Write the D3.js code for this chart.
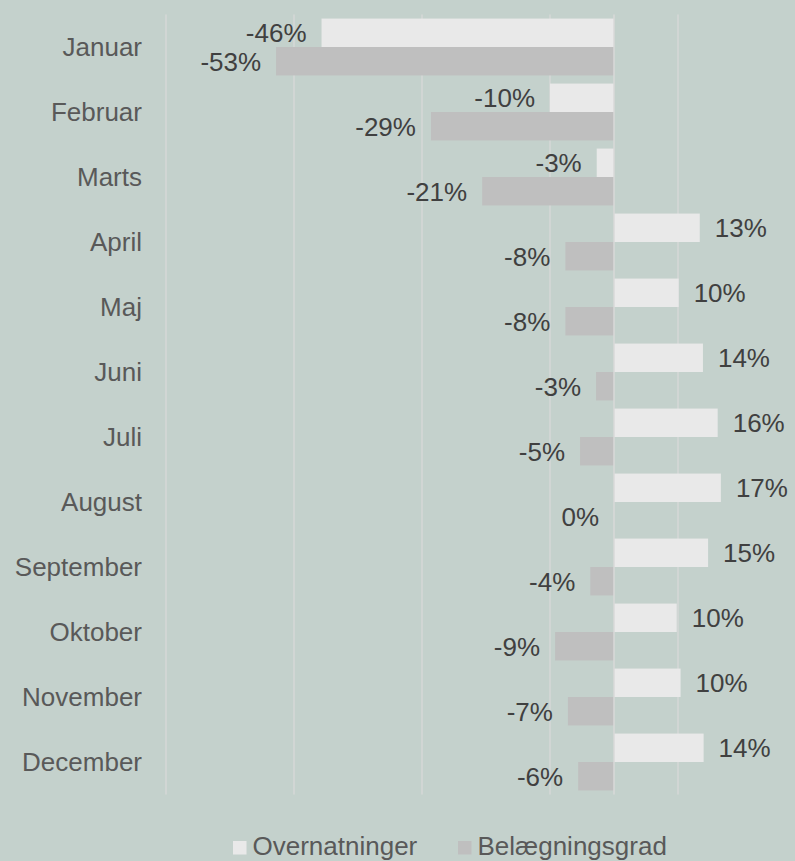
<!DOCTYPE html>
<html>
<head>
<meta charset="utf-8">
<script src="https://cdn.jsdelivr.net/npm/d3@7"></script>
<style>
    html, body { margin: 0; padding: 0; background: #c4d1cc; }
    svg { display: block; }
</style>
</head>
<body>
<div id="chart"></div>
<script>
// Data
const months = ["Januar", "Februar", "Marts", "April", "Maj", "Juni", "Juli", "August", "September", "Oktober", "November", "December"];
const overnatninger = [-45.7, -10.0, -2.7, 13.4, 10.1, 13.9, 16.2, 16.7, 14.7, 9.8, 10.4, 14.0];
const belaegningsgrad = [-52.8, -28.6, -20.6, -7.6, -7.6, -2.8, -5.3, 0, -3.7, -9.2, -7.2, -5.6];
const seriesNames = ["Overnatninger", "Belægningsgrad"];
const gridTicks = [-70, -50, -30, -10, 10];

const createBarChart = () => {
    // 1. Dimensions
    const width = 795;
    const height = 861;
    const plot = { left: 166, right: 742, top: 14.5, bottom: 794.5 };

    const svg = d3.select("#chart")
        .append("svg")
        .attr("width", width)
        .attr("height", height);

    svg.append("rect")
        .attr("width", width)
        .attr("height", height)
        .attr("fill", "#c4d1cc");

    // 2. Scales
    const x = d3.scaleLinear()
        .domain([-70, 20])
        .range([plot.left, plot.right]);

    const y0 = d3.scaleBand()
        .domain(months)
        .range([plot.top, plot.bottom])
        .paddingInner(0.125)
        .paddingOuter(0.0625);

    const y1 = d3.scaleBand()
        .domain(seriesNames)
        .range([0, y0.bandwidth()]);

    const color = d3.scaleOrdinal()
        .domain(seriesNames)
        .range(["#e9e9e9", "#bfbfbf"]);

    // 3. Gridlines
    svg.append("g")
        .selectAll("line")
        .data(gridTicks)
        .enter()
        .append("line")
        .attr("x1", d => x(d))
        .attr("x2", d => x(d))
        .attr("y1", plot.top)
        .attr("y2", plot.bottom)
        .attr("stroke", "#d9d9d9")
        .attr("stroke-width", 1.3);

    // 4. Bars
    const rows = months.map((m, i) => ({
        month: m,
        values: [
            { series: seriesNames[0], value: overnatninger[i] },
            { series: seriesNames[1], value: belaegningsgrad[i] }
        ]
    }));

    const groups = svg.append("g")
        .selectAll(".month")
        .data(rows)
        .enter()
        .append("g")
        .attr("class", "month")
        .attr("transform", d => `translate(0, ${y0(d.month)})`);

    groups.selectAll("rect")
        .data(d => d.values)
        .enter()
        .append("rect")
        .attr("x", d => x(Math.min(0, d.value)))
        .attr("width", d => Math.abs(x(d.value) - x(0)))
        .attr("y", d => y1(d.series))
        .attr("height", y1.bandwidth())
        .attr("fill", d => color(d.series));

    // data labels
    groups.selectAll("text")
        .data(d => d.values)
        .enter()
        .append("text")
        .attr("x", d => d.value > 0 ? x(d.value) + 15 : x(d.value) - 15)
        .attr("y", d => y1(d.series) + y1.bandwidth() / 2)
        .attr("dy", "0.36em")
        .attr("text-anchor", d => d.value > 0 ? "start" : "end")
        .style("font-family", "'Liberation Sans', Arial, sans-serif")
        .style("font-size", "26px")
        .style("fill", "#404040")
        .text(d => Math.round(d.value) + "%");

    // 5. Zero axis line
    svg.append("line")
        .attr("x1", x(0))
        .attr("x2", x(0))
        .attr("y1", plot.top)
        .attr("y2", plot.bottom)
        .attr("stroke", "#d9d9d9")
        .attr("stroke-width", 1.5);

    // 6. Category labels
    svg.append("g")
        .selectAll("text")
        .data(months)
        .enter()
        .append("text")
        .attr("x", 142)
        .attr("y", d => y0(d) + y0.bandwidth() / 2)
        .attr("dy", "0.34em")
        .attr("text-anchor", "end")
        .style("font-family", "'Liberation Sans', Arial, sans-serif")
        .style("font-size", "26px")
        .style("fill", "#595959")
        .text(d => d);

    // 7. Legend
    const legendX = [233, 458];
    const legend = svg.append("g")
        .selectAll("g")
        .data(seriesNames)
        .enter()
        .append("g")
        .attr("transform", (d, i) => `translate(${legendX[i]}, 841)`);

    legend.append("rect")
        .attr("width", 13.5)
        .attr("height", 13.5)
        .attr("fill", d => color(d));

    legend.append("text")
        .attr("x", 19.5)
        .attr("y", 14)
        .style("font-family", "'Liberation Sans', Arial, sans-serif")
        .style("font-size", "26px")
        .style("fill", "#595959")
        .text(d => d);
};

createBarChart();
</script>
</body>
</html>
